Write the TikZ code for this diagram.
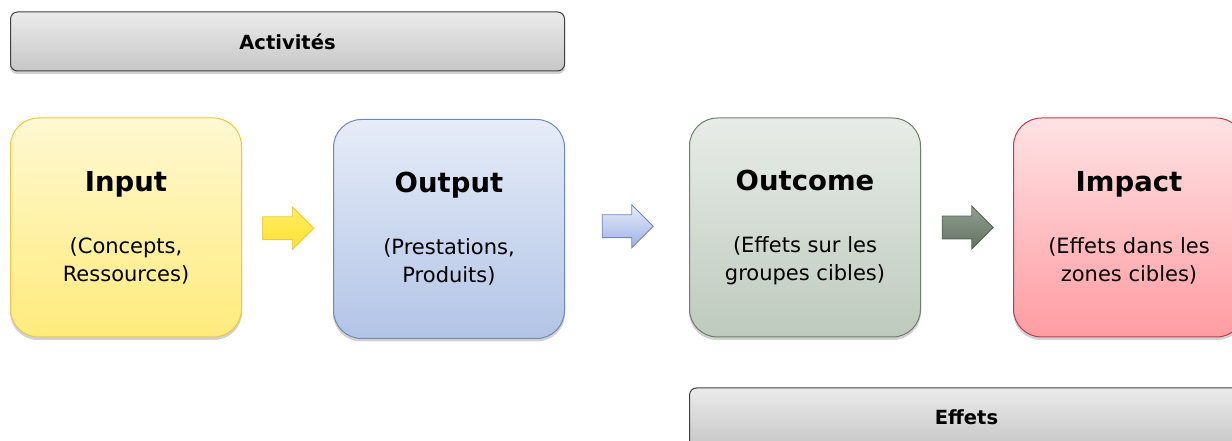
\documentclass[tikz,border=0pt]{standalone}
\usepackage{fontspec}
\setmainfont{DejaVu Sans}
\usepackage{tikz}
\usetikzlibrary{positioning,calc,shapes.arrows,backgrounds}
\usepackage{xcolor}
\definecolor{inTop}{HTML}{FFF8D2}
\definecolor{inBot}{HTML}{FFEB7C}
\definecolor{inLine}{HTML}{EEC83A}
\definecolor{outTop}{HTML}{E6ECF8}
\definecolor{outBot}{HTML}{B2C4E6}
\definecolor{outLine}{HTML}{6E88BC}
\definecolor{ocTop}{HTML}{E8ECE8}
\definecolor{ocBot}{HTML}{BECABE}
\definecolor{ocLine}{HTML}{6C7E6C}
\definecolor{imTop}{HTML}{FFE2E4}
\definecolor{imBot}{HTML}{FF9CA2}
\definecolor{imLine}{HTML}{C8384A}
\tikzset{
  stagebox/.style={
    draw, rounded corners=28pt, line width=1pt,
    minimum height=219pt, minimum width=231pt,
    align=center, inner sep=0pt,
    font=\fontsize{21}{28}\selectfont
  },
  barbox/.style={
    draw=black!75, rounded corners=7pt, line width=1pt,
    top color=black!8, bottom color=black!22,
    minimum height=59pt, minimum width=554pt,
    font=\fontsize{19.5}{22}\selectfont\bfseries, inner sep=0pt
  },
  flowarrow/.style={
    single arrow, draw, line width=0.8pt,
    minimum height=51pt, xshift=-5pt,
    single arrow head extend=10pt, single arrow head indent=0pt,
    inner sep=0pt
  },
  shadowfill/.style={fill=black!18}
}
\newcommand{\boxtitle}[1]{{\fontsize{27.5}{30}\selectfont\bfseries #1}}
\newcommand{\shaft}{\rule{0pt}{22pt}}

\begin{document}
\begin{tikzpicture}[x=1pt,y=1pt]
  \useasboundingbox (0,0) rectangle (1232,441);

  \node[stagebox, top color=inTop, bottom color=inBot, draw=inLine] (input) at (126,213.5)
    {\boxtitle{Input}\\[34pt](Concepts,\\Ressources)};
  \node[stagebox, top color=outTop, bottom color=outBot, draw=outLine, right=91pt of input, yshift=-1.5pt] (output)
    {\boxtitle{Output}\\[34pt](Prestations,\\Produits)};
  \node[stagebox, top color=ocTop, bottom color=ocBot, draw=ocLine, right=124pt of output, yshift=1.5pt] (outcome)
    {\boxtitle{Outcome}\\[34pt](Effets sur les\\groupes cibles)};
  \node[stagebox, top color=imTop, bottom color=imBot, draw=imLine, right=92pt of outcome] (impact)
    {\boxtitle{Impact}\\[34pt](Effets dans les\\zones cibles)};

  \node[barbox, anchor=south west] (activ) at ($(input.north west)+(0,46pt)$) {Activités};
  \node[barbox, anchor=north west] (effets) at ($(outcome.south west)+(0,-50pt)$) {Effets};

  \node[flowarrow, top color=yellow!20!inBot, bottom color=yellow!70!orange!80, draw=inLine] (a1)
    at ($(input.east)!0.5!(output.west)$) {\shaft};
  \node[flowarrow, top color=outTop, bottom color=outBot!90!blue, draw=outLine] (a2)
    at ($(output.east)!0.5!(outcome.west)+(0,2pt)$) {\shaft};
  \node[flowarrow, top color=ocLine!75, bottom color=ocLine!90!black, draw=ocLine!80!black] (a3)
    at ($(outcome.east)!0.5!(impact.west)$) {\shaft};

  % soft shadows
  \begin{scope}[on background layer]
    \foreach \n in {input,output,outcome,impact}
      \fill[shadowfill, rounded corners=28pt] ($(\n.south west)+(0,-2.5)$) rectangle ($(\n.north east)+(0,-2.5)$);
    \foreach \n in {activ,effets}
      \fill[shadowfill, rounded corners=7pt] ($(\n.south west)+(0,-2.5)$) rectangle ($(\n.north east)+(0,-2.5)$);
  \end{scope}
\end{tikzpicture}
\end{document}
